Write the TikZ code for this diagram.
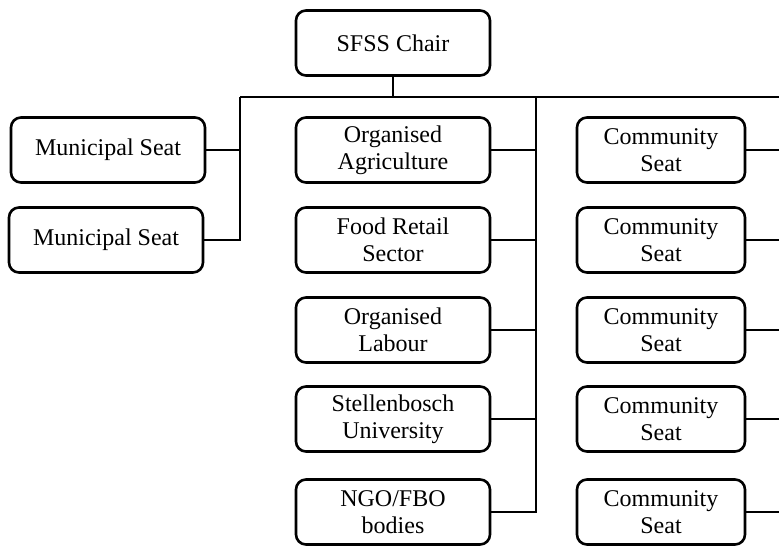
\documentclass[tikz,border=0pt]{standalone}
\usepackage{fontspec}
\setmainfont{LiberationSerif}[Extension=.ttf,UprightFont=*-Regular]
\begin{document}
\begin{tikzpicture}[x=1pt,y=-1pt,
  box/.style={draw=black, line width=2.6pt, rounded corners=10pt, fill=white,
    align=center, font=\fontsize{24}{27}\selectfont, inner sep=0pt,
    minimum height=65pt},
  wbox/.style={box, minimum width=194pt},
  nbox/.style={box, minimum width=168pt},
  link/.style={draw=black, line width=2.6pt}]
\useasboundingbox (0,0) rectangle (779,547);

% top of the hierarchy
\node[wbox] (chair) at (393,43) {SFSS Chair};

% municipal seats
\node[wbox] (mun1) at (108,150) {Municipal Seat};
\node[wbox] (mun2) at (106,240) {Municipal Seat};

% sector seats
\node[wbox] (agri) at (393,150) {Organised\\Agriculture};
\node[wbox] (food) at (393,240) {Food Retail\\Sector};
\node[wbox] (lab)  at (393,330) {Organised\\Labour};
\node[wbox] (su)   at (393,419) {Stellenbosch\\University};
\node[wbox] (ngo)  at (393,512) {NGO/FBO\\bodies};

% community seats
\node[nbox] (c1) at (661,150) {Community\\Seat};
\node[nbox] (c2) at (661,240) {Community\\Seat};
\node[nbox] (c3) at (661,330) {Community\\Seat};
\node[nbox] (c4) at (661,419) {Community\\Seat};
\node[nbox] (c5) at (661,512) {Community\\Seat};

% bus and trunk points
\coordinate (lv) at (240,97);
\coordinate (mv) at (536,97);
\coordinate (rv) at (781,97);

\draw[link] (chair.south) -- (chair.south |- lv);
\draw[link] (lv) -- (rv);

\draw[link] (mun1.east) -- (mun1.east -| lv);
\draw[link] (mun2.east) -| (lv);

\draw[link] (agri.east) -- (agri.east -| mv);
\draw[link] (food.east) -- (food.east -| mv);
\draw[link] (lab.east)  -- (lab.east -| mv);
\draw[link] (su.east)   -- (su.east -| mv);
\draw[link] (ngo.east)  -| (mv);

\draw[link] (c1.east) -- (c1.east -| rv);
\draw[link] (c2.east) -- (c2.east -| rv);
\draw[link] (c3.east) -- (c3.east -| rv);
\draw[link] (c4.east) -- (c4.east -| rv);
\draw[link] (c5.east) -- (c5.east -| rv);
\end{tikzpicture}
\end{document}
